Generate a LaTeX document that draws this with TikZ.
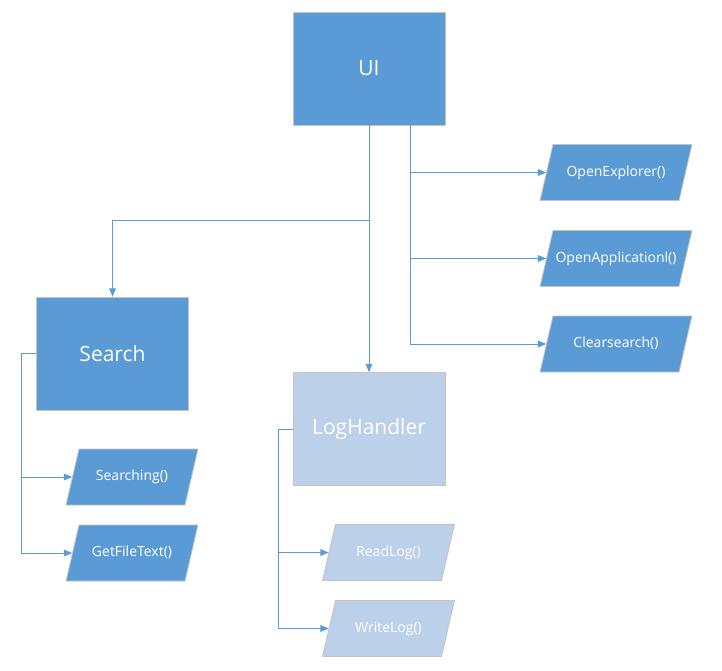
\documentclass[tikz,border=0pt]{standalone}
\usepackage{fontspec}
\setmainfont{Open Sans}
\usepackage{tikz}
\usetikzlibrary{positioning, arrows}
\usetikzlibrary{shapes,shapes.geometric}
\definecolor{boxblue}{HTML}{5B9BD5}
\definecolor{lightblue}{HTML}{BDD0E9}
\definecolor{edgegrey}{HTML}{C3C3C3}
\tikzset{
  bigbox/.style={rectangle, draw=edgegrey, line width=0.8pt, fill=boxblue, text=white,
    minimum width=152pt, minimum height=113pt, font=\fontsize{21}{25}\selectfont},
  method/.style={trapezium, trapezium left angle=77, trapezium right angle=103,
    draw=edgegrey, line width=0.8pt, fill=boxblue, text=white,
    text width=106pt, align=center, text height=10pt, text depth=3pt,
    inner xsep=0pt, inner ysep=21.5pt, minimum width=0pt, minimum height=0pt,
    font=\fontsize{14}{17}\selectfont},
  wide/.style={text width=126pt},
  light/.style={fill=lightblue},
  link/.style={-triangle 45, draw=boxblue, line width=0.9pt}
}
\begin{document}
\begin{tikzpicture}[x=1pt, y=-1pt]
			\useasboundingbox (0,0) rectangle (722,671);
			\node[bigbox] (ui) at (369,68.5) {UI};
			\node[bigbox] (search) at (112.5,353.5) {Search};
			\node[bigbox, light] (log) at (369,429) {LogHandler};
			\node[method, wide] (openex) at (616,172.5) {OpenExplorer()};
			\node[method, wide] (openapp) at (616,258.5) {OpenApplicationl()};
			\node[method, wide] (clear) at (616,344) {Clearsearch()};
			\node[method] (searching) at (132,477) {Searching()};
			\node[method] (gettext) at (132,553) {GetFileText()};
			\node[method, light] (readlog) at (388.5,552.5) {ReadLog()};
			\node[method, light] (writelog) at (388.5,628.5) {WriteLog()};
			
			\draw[link] (ui.south) -- ++(0,95) -| (search.north);
			\draw[link] (ui.south) -- (log.north);
			\draw[link] ([xshift=41pt]ui.south) |- (openex.west);
			\draw[link] ([xshift=41pt]ui.south) |- (openapp.west);
			\draw[link] ([xshift=41pt]ui.south) |- (clear.west);
			\draw[link] (search.west) -- ++(-15,0) |- (searching.west);
			\draw[link] (search.west) -- ++(-15,0) |- (gettext.west);
			\draw[link] (log.west) -- ++(-14,0) |- (readlog.west);
			\draw[link] (log.west) -- ++(-14,0) |- (writelog.west);
			
		\end{tikzpicture}
\end{document}
